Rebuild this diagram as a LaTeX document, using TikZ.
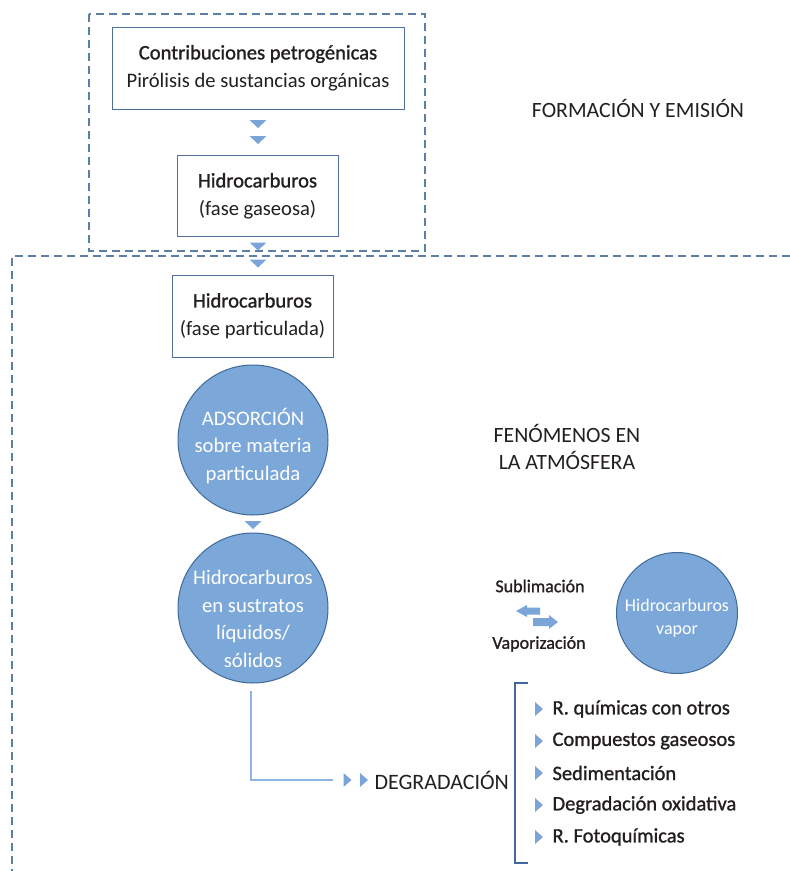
\documentclass[tikz,border=0pt]{standalone}
\usepackage{fontspec}
\setmainfont{Carlito}
\newfontfamily\medfont{Carlito}[FakeBold=1.2]
\usetikzlibrary{positioning}
\definecolor{boxline}{HTML}{4E6F98}
\definecolor{dashcol}{HTML}{5C7FA6}
\definecolor{circfill}{HTML}{7BA7D9}
\definecolor{circline}{HTML}{41689A}
\definecolor{tricol}{HTML}{7BA4D8}
\definecolor{linkcol}{HTML}{8EB4E3}
\definecolor{ink}{HTML}{231F20}
\tikzset{
  every node/.style={text=ink},
  stagebox/.style={draw=boxline, line width=1pt, fill=white},
  stagetext/.style={align=center, font=\fontsize{20.6}{28}\selectfont},
  bubble/.style={circle, draw=circline, line width=1pt, fill=circfill},
  bubbletext/.style={align=center, text=white, font=\fontsize{20.7}{27.5}\selectfont},
  zone/.style={draw=dashcol, line width=1.2pt, dash pattern=on 8pt off 5pt},
  heading/.style={align=center, font=\fontsize{21.8}{27}\selectfont},
  listitem/.style={anchor=west, font=\medfont\fontsize{20.5}{24}\selectfont},
  downtri/.pic={\fill[tricol] (-8.5,-4) -- (8.5,-4) -- (0,4) -- cycle;},
  righttri/.pic={\fill[tricol] (-4,-7) -- (4,0) -- (-4,7) -- cycle;},
}
\begin{document}
\begin{tikzpicture}[x=1pt, y=-1pt]
\useasboundingbox (0,0) rectangle (790,871);

% zones
\draw[zone] (89,14) rectangle (425,251);
\coordinate (zl) at (12,256);
\coordinate (zr) at (790,256);
\coordinate (zb) at (12,871);
\draw[zone] (zr) -- (zl) -- (zb);

% formation and emission
\node[stagebox, minimum width=292pt, minimum height=82pt] (petro) at (258,68) {};
\node[stagetext] at (258,68) {{\medfont Contribuciones petrogénicas}\\Pirólisis de sustancias orgánicas};
\pic at (258,124) {downtri};
\pic at (258,140) {downtri};
\node[stagebox, minimum width=161pt, minimum height=81pt] (gas) at (257.5,195.5) {};
\node[stagetext] at (257.5,196) {{\medfont Hidrocarburos}\\(fase gaseosa)};
\pic at (258,246.5) {downtri};
\pic at (258,263.5) {downtri};
\node[heading] (form) at (638,108) {FORMACIÓN Y EMISIÓN};

% atmospheric phenomena
\node[stagebox, minimum width=161pt, minimum height=82pt] (part) at (252.5,316) {};
\node[stagetext] at (252.5,316) {{\medfont Hidrocarburos}\\(fase particulada)};
\node[heading] (fen) at (567,447) {FENÓMENOS EN\\LA ATMÓSFERA};

\node[bubble, minimum size=150pt, inner sep=0pt] (ads) at (253,440) {};
\node[bubbletext] at (253,446) {ADSORCIÓN\\sobre materia\\particulada};
\pic at (253,525) {downtri};
\node[bubble, minimum size=150pt, inner sep=0pt] (sus) at (253,608) {};
\node[bubbletext] at (253,619) {Hidrocarburos\\en sustratos\\líquidos/\\sólidos};

\node[bubble, minimum size=121pt, inner sep=0pt] (vap) at (677,613) {};
\node[bubbletext, font=\fontsize{18}{23}\selectfont] at (677,618) {Hidrocarburos\\vapor};

\node[font=\medfont\fontsize{18}{20}\selectfont] (subl) at (540,586) {Sublimación};
\node[font=\medfont\fontsize{18}{20}\selectfont] (vapz) at (539,644) {Vaporización};
\fill[tricol] (516,611) -- (527,605) -- (527,607.5) -- (540,607.5) -- (540,614.5) -- (527,614.5) -- (527,617) -- cycle;
\fill[tricol] (558,622) -- (549,615) -- (549,618) -- (533,618) -- (533,626) -- (549,626) -- (549,629) -- cycle;

% degradation
\coordinate (bend) at (251,780);
\coordinate (linkend) at (333,780);
\draw[linkcol, line width=1.2pt] (sus.south -| bend) ++(0,7) -- (bend) -- (linkend);
\pic at (347.5,780) {righttri};
\pic at (364,780) {righttri};
\node[anchor=west, font=\fontsize{22}{26}\selectfont] (deg) at (371,780) {DEGRADACIÓN};

\draw[circline, line width=1.2pt] (528,683) -- (515,683) -- (515,863) -- (528,863);
\foreach \y/\t in {709/R. químicas con otros, 741/Compuestos gaseosos, 773/Sedimentación, 805/Degradación oxidativa, 837/R. Fotoquímicas}{
  \pic at (539,\y) {righttri};
  \node[listitem] at (549,\y) {\t};
}
\end{tikzpicture}
\end{document}
